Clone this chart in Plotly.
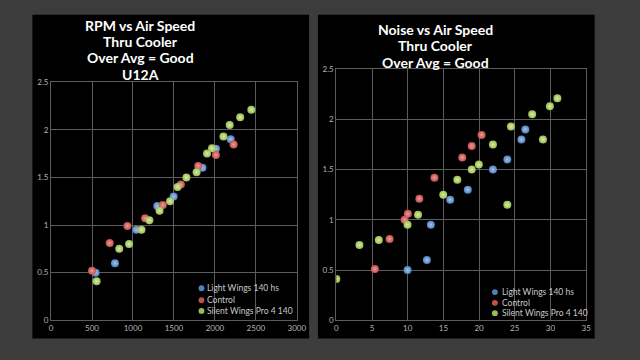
import plotly.graph_objects as go

# ---------------- data ----------------
series_names = ["Light Wings 140 hs", "Control", "Silent Wings Pro 4 140"]
series_colors = ["#4f81bd", "#c0504d", "#9bbb59"]
series_light = ["#a9c4ea", "#ee9a98", "#d6ef9c"]

# Left chart: RPM vs Air Speed
rpm_blue_x = [544, 780, 1040, 1296, 1496, 1848, 2012, 2192]
rpm_blue_y = [0.50, 0.60, 0.95, 1.20, 1.30, 1.60, 1.80, 1.90]
rpm_red_x = [500, 716, 932, 1148, 1364, 1584, 1796, 2012, 2228]
rpm_red_y = [0.52, 0.81, 0.99, 1.07, 1.21, 1.425, 1.62, 1.735, 1.845]
rpm_green_x = [556, 832, 952, 1104, 1200, 1324, 1452, 1544, 1652, 1776, 1904, 1964, 2104, 2180, 2308, 2444]
rpm_green_y = [0.41, 0.75, 0.80, 0.95, 1.05, 1.15, 1.25, 1.40, 1.50, 1.555, 1.75, 1.805, 1.93, 2.05, 2.13, 2.21]

# Right chart: Noise vs Air Speed
noise_blue_x = [9.98, 12.69, 13.24, 15.95, 18.42, 21.94, 23.96, 25.93, 26.48]
noise_blue_y = [0.50, 0.60, 0.95, 1.20, 1.30, 1.50, 1.60, 1.80, 1.90]
noise_red_x = [5.40, 7.46, 9.57, 10.03, 11.63, 13.75, 17.64, 18.97, 20.35]
noise_red_y = [0.51, 0.81, 1.00, 1.06, 1.21, 1.42, 1.62, 1.735, 1.845]
noise_green_x = [0.0, 3.24, 5.95, 9.98, 11.45, 23.96, 14.98, 16.95, 18.97, 19.97, 21.94, 28.95, 24.47, 27.44, 29.92, 30.97]
noise_green_y = [0.41, 0.75, 0.80, 0.95, 1.05, 1.15, 1.25, 1.40, 1.50, 1.55, 1.75, 1.80, 1.93, 2.05, 2.13, 2.21]

left_x_ticks = [0, 500, 1000, 1500, 2000, 2500, 3000]
right_x_ticks = [0, 5, 10, 15, 20, 25, 30, 35]
y_ticks = [0, 0.5, 1, 1.5, 2, 2.5]
y_tick_labels = ["0", "0.5", "1", "1.5", "2", "2.5"]

left_title_lines = ["RPM vs Air Speed", "Thru Cooler", "Over Avg = Good", "U12A"]
right_title_lines = ["Noise vs Air Speed", "Thru Cooler", "Over Avg = Good"]

# ---------------- figure ----------------
W, H = 640, 360
def px(x):
    return x / W
def py(y):
    return 1 - y / H

fig = go.Figure()

left_sets = [(rpm_blue_x, rpm_blue_y), (rpm_red_x, rpm_red_y), (rpm_green_x, rpm_green_y)]
right_sets = [(noise_blue_x, noise_blue_y), (noise_red_x, noise_red_y), (noise_green_x, noise_green_y)]

for i, (xs, ys) in enumerate(left_sets):
    fig.add_trace(go.Scatter(
        x=xs, y=ys, mode="markers", name=series_names[i], showlegend=False,
        xaxis="x", yaxis="y",
        marker=dict(size=8, color=series_colors[i], line=dict(width=0),
                    gradient=dict(type="radial", color=series_light[i]))))
for i, (xs, ys) in enumerate(right_sets):
    fig.add_trace(go.Scatter(
        x=xs, y=ys, mode="markers", name=series_names[i], showlegend=False,
        xaxis="x2", yaxis="y2",
        marker=dict(size=8, color=series_colors[i], line=dict(width=0),
                    gradient=dict(type="radial", color=series_light[i]))))

grid_col = "#5c5c5c"
tick_font = dict(family="Lato, sans-serif", size=8, color="#b4b4b4")

def xaxis_cfg(dom, rng, ticks, anchor):
    return dict(domain=dom, range=rng, tickvals=ticks, ticktext=[str(t) for t in ticks],
                showgrid=True, gridcolor=grid_col, gridwidth=1, zeroline=False,
                showline=True, linecolor=grid_col, linewidth=1, mirror=True,
                ticks="", tickfont=tick_font, anchor=anchor, fixedrange=True)

def yaxis_cfg(dom, anchor):
    return dict(domain=dom, range=[0, 2.5], tickvals=y_ticks, ticktext=y_tick_labels,
                showgrid=True, gridcolor=grid_col, gridwidth=1, zeroline=False,
                showline=True, linecolor=grid_col, linewidth=1, mirror=True,
                ticks="", tickfont=tick_font, anchor=anchor, fixedrange=True)

fig.update_layout(
    width=W, height=H,
    margin=dict(l=0, r=0, t=0, b=0),
    paper_bgcolor="#3c3c3c",
    plot_bgcolor="#000000",
    xaxis=xaxis_cfg([px(50), px(300.5)], [0, 3000], left_x_ticks, "y"),
    yaxis=yaxis_cfg([py(324.3), py(79.3)], "x"),
    xaxis2=xaxis_cfg([px(340.7), px(595.3)], [0, 35], right_x_ticks, "y2"),
    yaxis2=yaxis_cfg([py(324.3), py(66)], "x2"),
    showlegend=False,
)

# black panels
fig.add_shape(type="rect", xref="paper", yref="paper", layer="below",
              x0=px(31), x1=px(313), y0=py(343), y1=py(10),
              fillcolor="#000000", line=dict(width=0))
fig.add_shape(type="rect", xref="paper", yref="paper", layer="below",
              x0=px(322), x1=px(604), y0=py(343), y1=py(10),
              fillcolor="#000000", line=dict(width=0))

title_font = dict(family="Lato, sans-serif", size=14, color="#ffffff")
for line, yy in zip(left_title_lines, [21, 37.7, 54.3, 71.7]):
    fig.add_annotation(text="<b>" + line + "</b>", xref="paper", yref="paper",
                       x=px(141), y=py(yy), xanchor="center", yanchor="middle",
                       showarrow=False, font=title_font)
for line, yy in zip(right_title_lines, [25, 42, 59]):
    fig.add_annotation(text="<b>" + line + "</b>", xref="paper", yref="paper",
                       x=px(442), y=py(yy), xanchor="center", yanchor="middle",
                       showarrow=False, font=title_font)

# legends (drawn as text + round swatches)
leg_font = dict(family="Lato, sans-serif", size=8.5, color="#c8c8c8")
def add_legend(mx, tx, ys):
    for i, yy in enumerate(ys):
        fig.add_shape(type="circle", xref="paper", yref="paper",
                      x0=px(mx - 3), x1=px(mx + 3), y0=py(yy + 3), y1=py(yy - 3),
                      fillcolor=series_colors[i], line=dict(width=0))
        fig.add_annotation(text=series_names[i], xref="paper", yref="paper",
                           x=px(tx), y=py(yy), xanchor="left", yanchor="middle",
                           showarrow=False, font=leg_font)

add_legend(203.3, 207.3, [291.3, 303.7, 314.7])
add_legend(502.3, 507.3, [295.3, 306.3, 317.0])

fig.write_html("out.html")
